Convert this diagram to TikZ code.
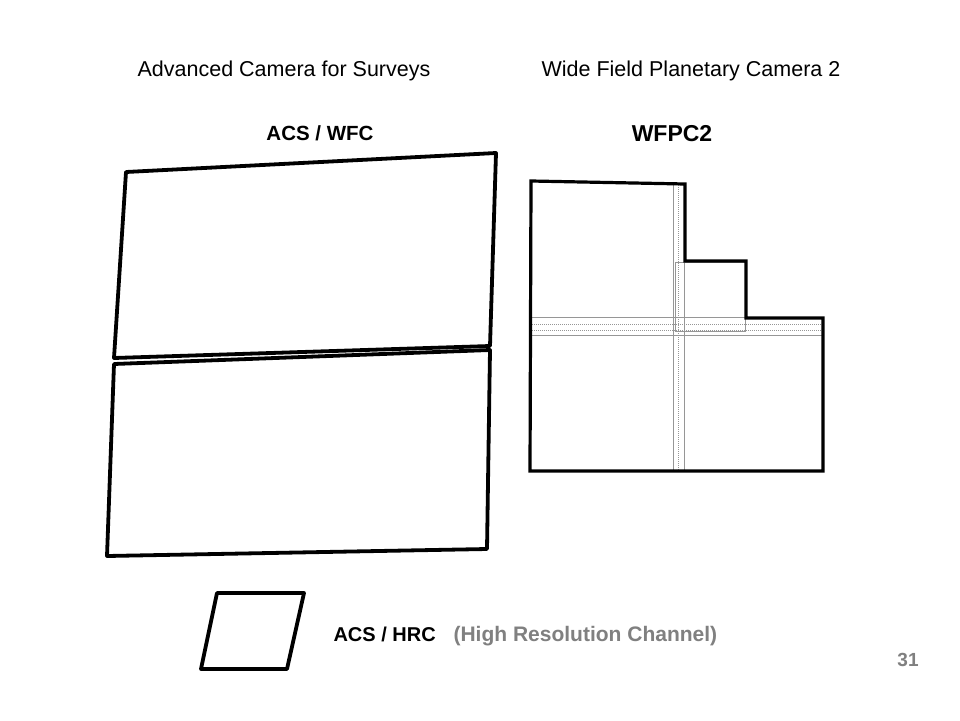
\documentclass[tikz,border=0pt]{standalone}
\usepackage{fontspec}
\setmainfont{Liberation Sans}
\definecolor{bandgray}{RGB}{150,150,150}
\definecolor{labelgray}{RGB}{128,128,128}
\begin{document}
\begin{tikzpicture}[x=1pt,y=-1pt,
  chip/.style={draw=black,line width=3.8pt,line join=round},
  wfchip/.style={draw=black,line width=3.2pt,line join=miter},
  band/.style={draw=bandgray,line width=1pt,densely dotted},
  bandedge/.style={draw=bandgray,line width=0.9pt},
  title/.style={font=\fontsize{21.5}{25}\selectfont,anchor=base},
  blabel/.style={font=\bfseries\fontsize{20}{24}\selectfont,anchor=base west}]
\useasboundingbox[fill=white] (0,0) rectangle (960,720);
% titles
\node[title] (t1) at (284,76) {Advanced Camera for Surveys};
\node[title] (t2) at (691,76) {Wide Field Planetary Camera 2};
\node[font=\bfseries\fontsize{20.5}{24}\selectfont,anchor=base] (wfc) at (320,140) {ACS / WFC};
\node[font=\bfseries\fontsize{23}{27}\selectfont,anchor=base] (wfpc) at (672,141) {WFPC2};
% ACS/WFC chips
\draw[chip] (126,172) -- (496,153) -- (490,346) -- (114,358) -- cycle;
\draw[chip] (114,364) -- (490,350) -- (487,549) -- (107,556) -- cycle;
% WFPC2 gray bands
\draw[bandedge] (673,183) -- (673,471);
\draw[band] (678,183) -- (678,471);
\draw[bandedge] (684,183) -- (684,471);
\draw[bandedge] (530,317) -- (823,317);
\draw[band] (530,324) -- (823,324);
\draw[band] (530,330) -- (823,330);
\draw[bandedge] (530,335) -- (823,335);
\draw[bandedge] (675,262) rectangle (745,331);
% WFPC2 outline
\draw[wfchip] (531,181) -- (685,184) -- (685,261) -- (746,261) -- (746,318) -- (823,318) -- (823,471) -- (530,471) -- cycle;
% HRC
\draw[chip] (217,593) -- (304,593) -- (287,669) -- (201,669) -- cycle;
\node[blabel] (hrc) at (330,641) {ACS / HRC};
\node[blabel,font=\bfseries\fontsize{21}{24}\selectfont,text=labelgray] (hrcx) at (450,641) {(High Resolution Channel)};
\node[font=\bfseries\fontsize{19}{22}\selectfont,anchor=base,text=labelgray] (pg) at (908,666) {31};
\end{tikzpicture}
\end{document}
